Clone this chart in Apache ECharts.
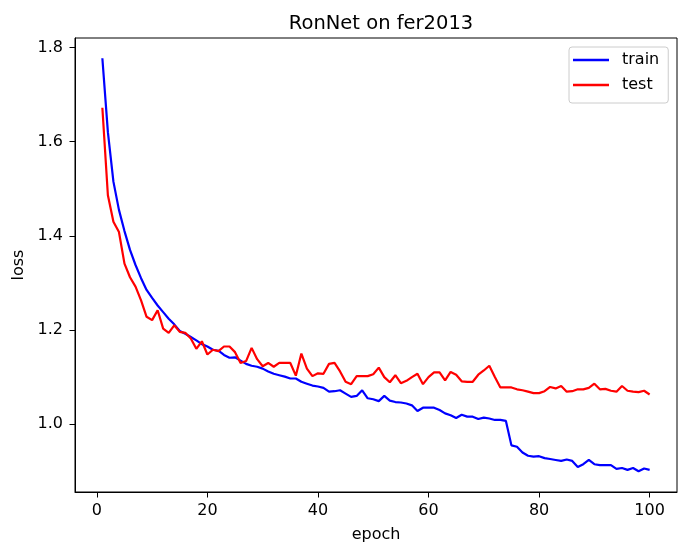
<!DOCTYPE html>
<html>
<head>
<meta charset="utf-8">
<script src="https://cdn.jsdelivr.net/npm/echarts@6/dist/echarts.min.js"></script>
<style>html,body{margin:0;padding:0;background:#fff;}#c{width:685px;height:548px;}</style>
</head>
<body>
<div id="c"></div>
<script>
const epochs = Array.from({length: 100}, (_, i) => i + 1);
const trainLoss = [
1.777,1.62,1.515,1.455,1.41,1.37,1.338,1.31,1.285,1.268,
1.252,1.238,1.224,1.212,1.198,1.192,1.185,1.178,1.17,1.165,
1.158,1.156,1.147,1.141,1.142,1.135,1.128,1.124,1.122,1.118,
1.112,1.107,1.104,1.101,1.097,1.097,1.09,1.086,1.082,1.08,
1.077,1.069,1.07,1.072,1.065,1.058,1.06,1.072,1.055,1.053,
1.049,1.06,1.05,1.047,1.046,1.044,1.04,1.028,1.035,1.035,
1.035,1.03,1.023,1.019,1.013,1.02,1.016,1.016,1.011,1.014,
1.012,1.009,1.009,1.007,0.955,0.952,0.94,0.933,0.931,0.932,
0.928,0.926,0.924,0.922,0.925,0.922,0.909,0.915,0.924,0.915,
0.913,0.913,0.913,0.905,0.907,0.903,0.907,0.9,0.906,0.903
];
const testLoss = [
1.672,1.486,1.43,1.408,1.341,1.312,1.292,1.263,1.228,1.221,
1.242,1.203,1.194,1.21,1.196,1.194,1.182,1.16,1.176,1.148,
1.158,1.155,1.165,1.165,1.153,1.13,1.134,1.162,1.138,1.123,
1.13,1.122,1.13,1.13,1.13,1.103,1.15,1.118,1.102,1.108,
1.107,1.128,1.13,1.112,1.09,1.085,1.102,1.102,1.102,1.106,
1.12,1.1,1.089,1.104,1.087,1.092,1.1,1.107,1.085,1.1,
1.11,1.11,1.093,1.111,1.105,1.091,1.09,1.09,1.105,1.114,
1.124,1.1,1.078,1.078,1.078,1.074,1.072,1.069,1.066,1.066,
1.07,1.079,1.076,1.081,1.069,1.07,1.074,1.074,1.077,1.086,
1.074,1.075,1.071,1.069,1.081,1.071,1.069,1.068,1.071,1.063
];
const xTicks = [0, 20, 40, 60, 80, 100];
const yTicks = [1.0, 1.2, 1.4, 1.6, 1.8];

const font = 'DejaVu Sans';
const fs = 16;
const chart = echarts.init(document.getElementById('c'), null, {renderer: 'canvas'});
chart.setOption({
  animation: false,
  backgroundColor: '#fff',
  title: {
    text: 'RonNet on fer2013',
    left: 376, top: 9, textAlign: 'center',
    textStyle: {fontFamily: font, fontSize: 19.5, fontWeight: 'normal', color: '#000'}
  },
  legend: {
    orient: 'vertical',
    left: 569, top: 47,
    padding: [4, 9, 9, 4],
    itemGap: 7,
    itemWidth: 36, itemHeight: 2.5,
    icon: 'rect',
    borderColor: '#cccccc', borderWidth: 1, borderRadius: 3,
    backgroundColor: 'rgba(255,255,255,0.8)',
    textStyle: {fontFamily: font, fontSize: fs, color: '#000', lineHeight: 18, padding: [0, 0, 0, 8]},
    data: ['train', 'test']
  },
  grid: {
    left: 75, right: 8, top: 38, bottom: 56,
    containLabel: false, outerBoundsMode: 'none',
    show: true, borderColor: '#000', borderWidth: 1, backgroundColor: '#fff'
  },
  xAxis: {
    type: 'value', min: -3.95, max: 104.95,
    name: 'epoch', nameLocation: 'middle', nameGap: 35,
    nameTextStyle: {fontFamily: font, fontSize: fs, color: '#000'},
    axisLine: {show: true, onZero: false, lineStyle: {color: '#000', width: 1}},
    splitLine: {show: false},
    axisTick: {show: true, length: 5.5, lineStyle: {color: '#000', width: 1}, customValues: xTicks},
    axisLabel: {fontFamily: font, fontSize: fs, color: '#000', margin: 11, customValues: xTicks,
      formatter: v => String(Math.round(v))}
  },
  yAxis: {
    type: 'value', min: 0.856, max: 1.82,
    name: 'loss', nameLocation: 'middle', nameGap: 43, nameRotate: 90,
    nameTextStyle: {fontFamily: font, fontSize: fs, color: '#000'},
    axisLine: {show: true, onZero: false, lineStyle: {color: '#000', width: 1}},
    splitLine: {show: false},
    axisTick: {show: true, length: 5.5, lineStyle: {color: '#000', width: 1}, customValues: yTicks},
    axisLabel: {fontFamily: font, fontSize: fs, color: '#000', margin: 12, customValues: yTicks,
      formatter: v => v.toFixed(1)}
  },
  series: [
    {name: 'train', type: 'line', showSymbol: false, symbol: 'none', color: '#0000ff',
     lineStyle: {color: '#0000ff', width: 2.2}, data: epochs.map((e, i) => [e, trainLoss[i]])},
    {name: 'test', type: 'line', showSymbol: false, symbol: 'none', color: '#ff0000',
     lineStyle: {color: '#ff0000', width: 2.2}, data: epochs.map((e, i) => [e, testLoss[i]])}
  ]
});
</script>
</body>
</html>
